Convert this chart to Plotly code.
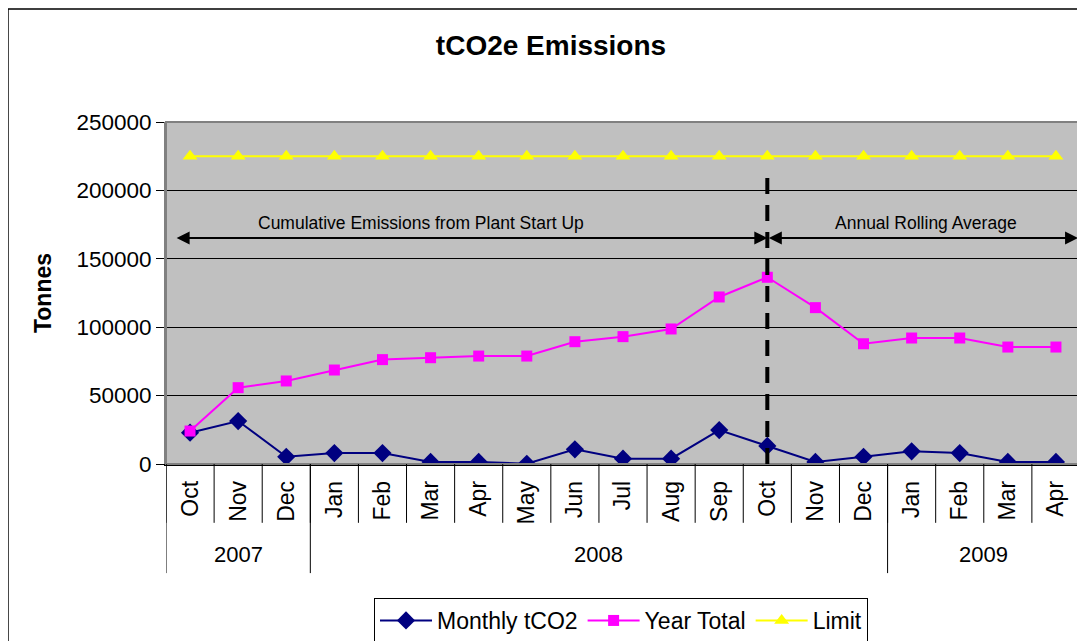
import plotly.graph_objects as go

months = ["Oct", "Nov", "Dec", "Jan", "Feb", "Mar", "Apr", "May", "Jun", "Jul",
          "Aug", "Sep", "Oct", "Nov", "Dec", "Jan", "Feb", "Mar", "Apr"]
years = ["2007", "2008", "2009"]
year_spans = [(0, 2), (3, 14), (15, 18)]
monthly = [22900, 31400, 5300, 8000, 8000, 1500, 1500, 200, 10700, 3900,
           3900, 24800, 13200, 1500, 5300, 9300, 8000, 1500, 1500]
year_total = [24100, 55800, 60700, 68700, 76300, 77700, 78900, 78900, 89400, 93100,
              98700, 122100, 136500, 114300, 87900, 92100, 92100, 85500, 85500]
limit = [225000] * 19

x = list(range(len(months)))
FONT = "Liberation Sans, Arial, sans-serif"

fig = go.Figure()
fig.add_trace(go.Scatter(x=x, y=monthly, name="Monthly tCO2", mode="lines+markers",
                         line=dict(color="#000080", width=2),
                         marker=dict(symbol="diamond", size=14, color="#000080")))
fig.add_trace(go.Scatter(x=x, y=year_total, name="Year Total", mode="lines+markers",
                         line=dict(color="#FF00FF", width=2),
                         marker=dict(symbol="square", size=11, color="#FF00FF")))
fig.add_trace(go.Scatter(x=x, y=limit, name="Limit", mode="lines+markers",
                         line=dict(color="#FFFF00", width=2),
                         marker=dict(symbol="triangle-up", size=13, color="#FFFF00")))

shapes = []
# outer frame
shapes.append(dict(type="rect", xref="paper", yref="paper", x0=-0.1729, x1=1.05,
                   y0=-0.6, y1=1.3305, line=dict(color="#000000", width=1.5),
                   fillcolor="rgba(0,0,0,0)", layer="above"))
# plot-area border (grey)
shapes.append(dict(type="rect", xref="paper", yref="paper", x0=0, x1=1, y0=0, y1=1,
                   line=dict(color="#808080", width=2), fillcolor="rgba(0,0,0,0)",
                   layer="above"))
# month separators
for k in range(len(months) + 1):
    shapes.append(dict(type="line", xref="x", yref="paper", x0=k - 0.5, x1=k - 0.5,
                       y0=0, y1=-0.172, line=dict(color="#000000", width=1)))
# year separators
for (a, b) in year_spans:
    shapes.append(dict(type="line", xref="x", yref="paper", x0=a - 0.5, x1=a - 0.5,
                       y0=0, y1=-0.319, line=dict(color="#000000", width=1)))
# dashed vertical divider
shapes.append(dict(type="line", xref="x", yref="y", x0=12, x1=12, y0=0, y1=210500,
                   line=dict(color="#000000", width=4, dash="16px,11px")))

annotations = []
for (a, b), yr in zip(year_spans, years):
    annotations.append(dict(x=(a + b) / 2, y=-0.266, xref="x", yref="paper", text=yr,
                            yanchor="middle", showarrow=False,
                            font=dict(family=FONT, size=22, color="#000000")))
# double-headed arrows
for (x0, x1) in [(-0.31, 12), (12, 18.46)]:
    annotations.append(dict(x=x1, y=165200, ax=x0, ay=165200, xref="x", yref="y",
                            axref="x", ayref="y", text="", showarrow=True,
                            arrowhead=2, startarrowhead=2, arrowside="end+start",
                            arrowsize=1.3, startarrowsize=1.3, arrowwidth=2, arrowcolor="#000000"))
annotations.append(dict(x=4.8, y=176500, xref="x", yref="y", showarrow=False,
                        text="Cumulative Emissions from Plant Start Up",
                        font=dict(family=FONT, size=17.5, color="#000000")))
annotations.append(dict(x=15.3, y=176500, xref="x", yref="y", showarrow=False,
                        text="Annual Rolling Average",
                        font=dict(family=FONT, size=17.5, color="#000000")))

fig.update_layout(
    width=1085, height=641,
    margin=dict(l=158, r=13, t=114, b=185),
    paper_bgcolor="#FFFFFF", plot_bgcolor="#C0C0C0",
    title=dict(text="<b>tCO2e Emissions</b>", x=(551 - 8) / 1085, xanchor="center",
               y=1 - 37 / 641, yanchor="middle", yref="container",
               font=dict(family=FONT, size=28, color="#000000")),
    font=dict(family=FONT, color="#000000"),
    xaxis=dict(range=[-0.5, 18.5], tickmode="array", tickvals=x, ticktext=months,
               tickangle=-90, ticks="outside", ticklen=6, tickcolor="rgba(0,0,0,0)",
               showgrid=False, zeroline=False,
               showline=True, linecolor="#000000", linewidth=1.5,
               tickfont=dict(family=FONT, size=23, color="#000000"), fixedrange=True),
    yaxis=dict(range=[0, 250000], dtick=50000, tickformat="d", showgrid=True,
               gridcolor="#000000", gridwidth=1, zeroline=False,
               showline=True, linecolor="#808080", linewidth=2, mirror=False,
               ticks="outside", ticklen=8, tickcolor="#000000",
               tickfont=dict(family=FONT, size=22.5, color="#000000"),
               title=dict(text="<b>Tonnes</b>", font=dict(family=FONT, size=23, color="#000000"),
                          standoff=18)),
    legend=dict(orientation="h", x=(621 - 8) / 1085, xanchor="center", xref="container",
                y=1 - 590 / 641, yanchor="top", yref="container",
                bordercolor="#000000", borderwidth=1, bgcolor="#FFFFFF",
                font=dict(family=FONT, size=23, color="#000000"), itemwidth=52),
    shapes=shapes, annotations=annotations, showlegend=True,
)

fig.write_html("out.html")
